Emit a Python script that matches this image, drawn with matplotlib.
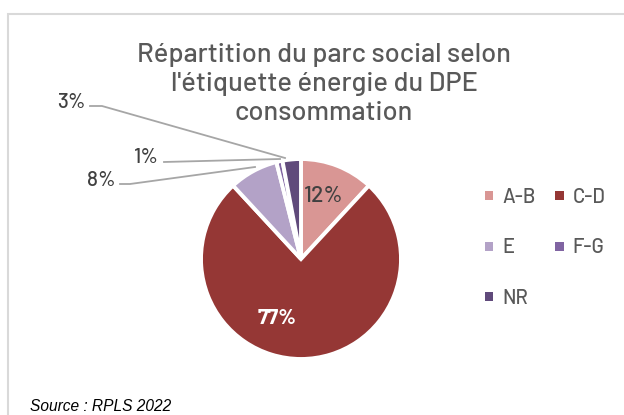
import matplotlib
matplotlib.use("Agg")
import matplotlib.pyplot as plt
from matplotlib.patches import Rectangle
from matplotlib.lines import Line2D

categories = ["A-B", "C-D", "E", "F-G", "NR"]
values = [12, 77, 8, 1, 3]
pct_labels = ["12%", "77%", "8%", "1%", "3%"]
colors = ["#D99694", "#953735", "#B3A2C7", "#8064A2", "#604A7B"]

title_lines = ["Répartition du parc social selon",
               "l'étiquette énergie du DPE",
               "consommation"]
source = "Source : RPLS 2022"
FONT = ["Barlow", "DejaVu Sans"]
FW = 500

W, H = 624, 415
fig = plt.figure(figsize=(W / 100, H / 100), dpi=100)

def fx(px):
    return px / W

def fy(py):
    return 1 - py / H

# chart frame
fig.add_artist(Rectangle((fx(8), fy(420)), fx(700), fy(14) - fy(420),
                         transform=fig.transFigure, fill=False,
                         edgecolor="#D9D9D9", linewidth=1.5))

# pie axes: center (301,259), radius 100 px
cx, cy, r = 301, 259, 100
ax = fig.add_axes([fx(cx - r), fy(cy + r), fx(2 * r), fy(cy - r) - fy(cy + r)])
wedges, _ = ax.pie(values, colors=colors, startangle=90, counterclock=False,
                   radius=1, wedgeprops=dict(edgecolor="white", linewidth=2.8))
ax.set_xlim(-1, 1)
ax.set_ylim(-1, 1)
ax.set_aspect("equal")
ax.axis("off")

def d(px, py):
    return ((px - cx) / r, (cy - py) / r)

# inside labels
ax.text(*d(323.5, 202), pct_labels[0], ha="center", va="baseline", fontsize=16.5,
        color="#404040", family=FONT, fontweight=FW)
ax.text(*d(277, 324), pct_labels[1], ha="center", va="baseline", fontsize=15.5,
        color="white", fontweight="bold", family=FONT)

# outside labels with leader lines
lc = "#A6A6A6"
outside = [
    (4, (86, 108), [(90, 106), (102, 106), (285, 158)]),
    (3, (159, 163), [(164, 162), (280, 159)]),
    (2, (116, 186), [(120, 184), (130, 184), (255, 167)]),
]
for idx, (tx, ty), pts in outside:
    xs = [d(*p)[0] for p in pts]
    ys = [d(*p)[1] for p in pts]
    ax.add_line(Line2D(xs, ys, color=lc, linewidth=1.3, clip_on=False))
    ax.text(*d(tx, ty), pct_labels[idx], ha="right", va="baseline", fontsize=15,
            color="#404040", family=FONT, fontweight=FW, clip_on=False)

# title
for line, base in zip(title_lines, [62, 91, 120]):
    fig.text(fx(324), fy(base), line, ha="center", va="baseline", fontsize=19.6,
             color="#595959", family=FONT, fontweight=FW)

# legend
leg_pos = [(489, 196, 203), (559.5, 196, 203), (489, 246.5, 253),
           (559.5, 246.5, 253), (489, 296.5, 304)]
for (lx, ly, lb), cat, col in zip(leg_pos, categories, colors):
    fig.add_artist(Rectangle((fx(lx - 4.5), fy(ly + 4.5)), fx(9), fy(ly - 4.5) - fy(ly + 4.5),
                             transform=fig.transFigure, facecolor=col,
                             edgecolor="none"))
    fig.text(fx(lx + 13), fy(lb), cat, ha="left", va="baseline", fontsize=14.5,
             color="#595959", family=FONT, fontweight=FW)

# source
fig.text(fx(30), fy(406), source, ha="left", va="center", fontsize=11.2,
         style="italic", color="#000000", family=["Liberation Sans", "DejaVu Sans"])

fig.savefig("out.png", dpi=100)
